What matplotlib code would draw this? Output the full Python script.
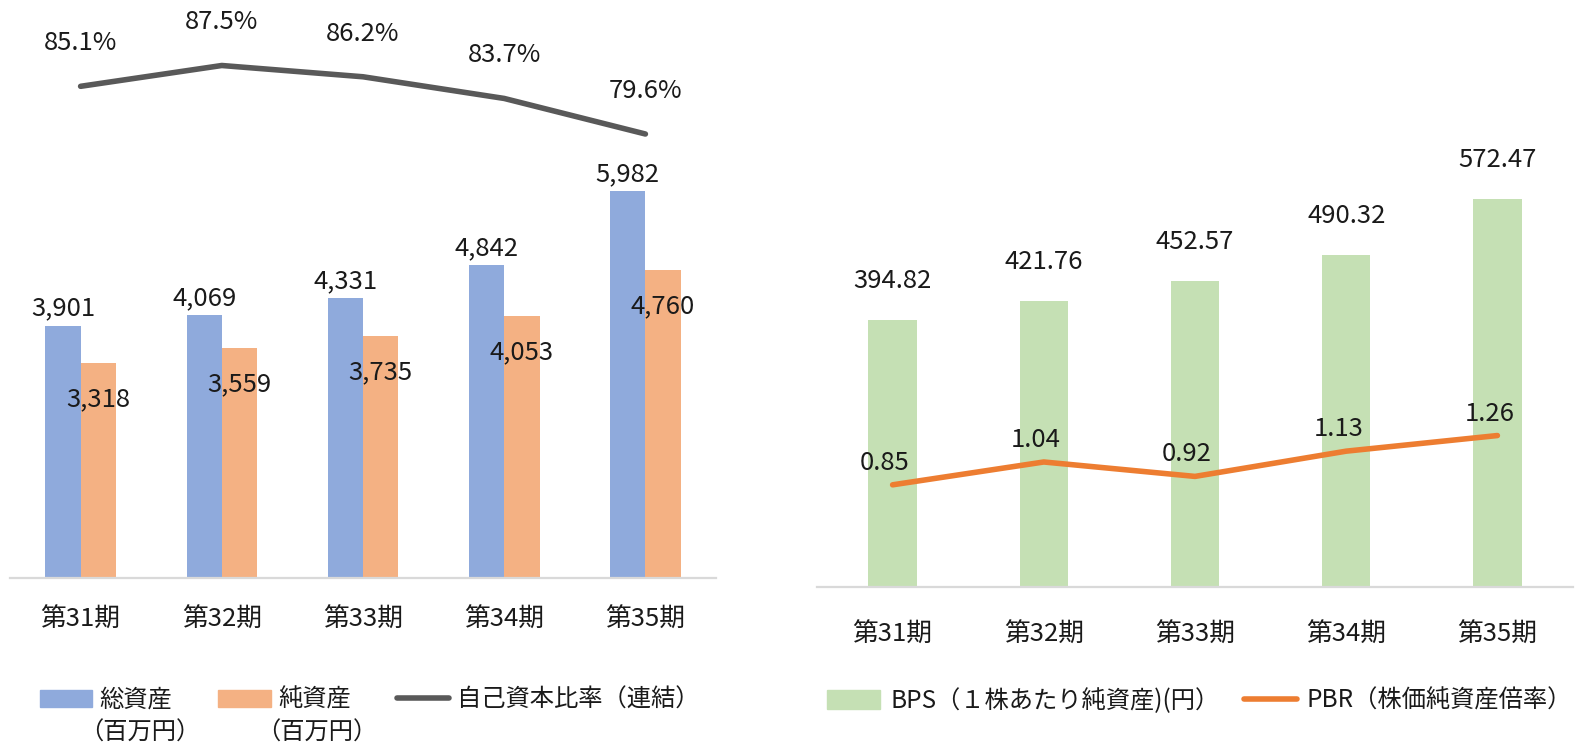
import matplotlib
matplotlib.use("Agg")
import matplotlib.pyplot as plt
from matplotlib.patches import Patch
from matplotlib.lines import Line2D
import numpy as np

plt.rcParams['font.family'] = ['Noto Sans CJK JP', 'DejaVu Sans']

periods = ['第31期', '第32期', '第33期', '第34期', '第35期']
total_assets = [3901, 4069, 4331, 4842, 5982]
net_assets = [3318, 3559, 3735, 4053, 4760]
equity_ratio = [85.1, 87.5, 86.2, 83.7, 79.6]
bps = [394.82, 421.76, 452.57, 490.32, 572.47]
pbr = [0.85, 1.04, 0.92, 1.13, 1.26]

c_blue = '#8FAADC'
c_orange = '#F4B183'
c_gray = '#595959'
c_green = '#C5E0B4'
c_pbr = '#ED7D31'
c_axis = '#D9D9D9'
c_text = '#1a1a1a'
fs = 18.5

W, H = 1581, 747
fig = plt.figure(figsize=(W / 100, H / 100), dpi=100)

def frac_box(x0, x1, ytop, ybot):
    return [x0 / W, (H - ybot) / H, (x1 - x0) / W, (ybot - ytop) / H]

x = np.arange(len(periods))

# ---- left chart ----
ax1 = fig.add_axes(frac_box(10, 716, 10, 578))
bw = 0.25
ax1.bar(x - bw / 2, total_assets, bw, color=c_blue, zorder=2)
ax1.bar(x + bw / 2, net_assets, bw, color=c_orange, zorder=2)
ax1.set_xlim(-0.5, 4.5)
ax1.set_ylim(0, 8782)
for xi, v in zip(x - bw / 2, total_assets):
    ax1.annotate(f'{v:,}', (xi, v), xytext=(0, 17), textcoords='offset pixels',
                 ha='center', va='center', fontsize=fs, color=c_text)
for xi, v in zip(x + bw / 2, net_assets):
    ax1.annotate(f'{v:,}', (xi, v), xytext=(0, -36), textcoords='offset pixels',
                 ha='center', va='center', fontsize=fs, color=c_text)

ax1b = ax1.twinx()
ax1b.plot(x, equity_ratio, color=c_gray, lw=4, solid_capstyle='round', zorder=3)
ax1b.set_ylim(28.4, 93.9)
for xi, v in zip(x, equity_ratio):
    ax1b.annotate(f'{v:.1f}%', (xi, v), xytext=(0, 43), textcoords='offset pixels',
                  ha='center', va='center', fontsize=fs, color=c_text)

for a in (ax1, ax1b):
    for s in ('top', 'left', 'right'):
        a.spines[s].set_visible(False)
    a.set_yticks([])
ax1b.spines['bottom'].set_visible(False)
ax1.spines['bottom'].set_color(c_axis)
ax1.spines['bottom'].set_linewidth(1.6)
ax1.set_xticks(x)
ax1.set_xticklabels(periods, fontsize=fs, color=c_text)
ax1.tick_params(axis='x', length=0, pad=21)

# ---- right chart ----
ax2 = fig.add_axes(frac_box(817, 1573, 10, 587))
ax2.bar(x, bps, 0.32, color=c_green, zorder=2)
ax2.set_xlim(-0.5, 4.5)
ax2.set_ylim(0, 852)
for xi, v in zip(x, bps):
    ax2.annotate(f'{v:.2f}', (xi, v), xytext=(0, 39), textcoords='offset pixels',
                 ha='center', va='center', fontsize=fs, color=c_text)

ax2b = ax2.twinx()
ax2b.plot(x, pbr, color=c_pbr, lw=4, solid_capstyle='round', zorder=3)
ax2b.set_ylim(0, 4.80)
for xi, v in zip(x, pbr):
    ax2b.annotate(f'{v:.2f}', (xi, v), xytext=(-8, 22), textcoords='offset pixels',
                  ha='center', va='center', fontsize=fs, color=c_text)

for a in (ax2, ax2b):
    for s in ('top', 'left', 'right'):
        a.spines[s].set_visible(False)
    a.set_yticks([])
ax2b.spines['bottom'].set_visible(False)
ax2.spines['bottom'].set_color(c_axis)
ax2.spines['bottom'].set_linewidth(1.6)
ax2.set_xticks(x)
ax2.set_xticklabels(periods, fontsize=fs, color=c_text)
ax2.tick_params(axis='x', length=0, pad=25)

# ---- legends ----
lfs = 17.5
h_left = [Patch(color=c_blue), Patch(color=c_orange),
          Line2D([], [], color=c_gray, lw=4, solid_capstyle='round')]
fig.legend(h_left, ['総資産', '純資産', '自己資本比率（連結）'],
           loc='center left', bbox_to_anchor=(40 / W, (H - 700) / H),
           ncol=3, frameon=False, fontsize=lfs, borderpad=0, borderaxespad=0,
           handlelength=2.15, handleheight=0.75, handletextpad=0.3,
           columnspacing=1.9, labelcolor=c_text)
fig.text(140 / W, (H - 733) / H, '（百万円）', ha='center', va='center',
         fontsize=lfs, color=c_text)
fig.text(317 / W, (H - 733) / H, '（百万円）', ha='center', va='center',
         fontsize=lfs, color=c_text)

h_right = [Patch(color=c_green),
           Line2D([], [], color=c_pbr, lw=4, solid_capstyle='round')]
fig.legend(h_right, ['BPS（１株あたり純資産)(円）', 'PBR（株価純資産倍率）'],
           loc='center left', bbox_to_anchor=(827 / W, (H - 701) / H),
           ncol=2, frameon=False, fontsize=lfs, borderpad=0, borderaxespad=0,
           handlelength=2.2, handleheight=0.8, handletextpad=0.4,
           columnspacing=1.0, labelcolor=c_text)

fig.savefig('out.png', dpi=100)
